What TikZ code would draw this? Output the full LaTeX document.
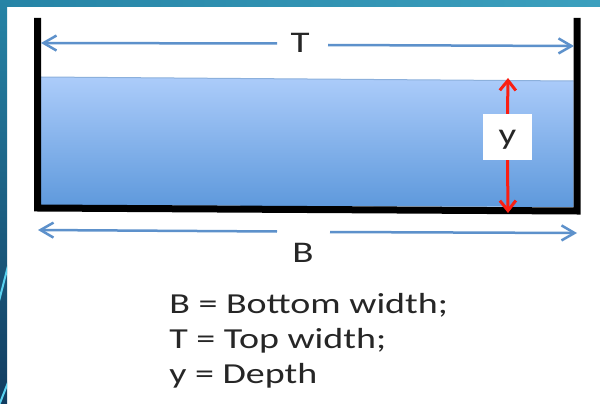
\documentclass[tikz,border=0pt]{standalone}
\usepackage{fontspec}
\setmainfont{Carlito}
\usetikzlibrary{arrows.meta}
\definecolor{arrblue}{RGB}{93,145,203}
\definecolor{waterTop}{RGB}{172,204,250}
\definecolor{waterBot}{RGB}{94,153,220}
\definecolor{surf}{RGB}{140,176,220}
\definecolor{redarr}{RGB}{250,30,18}
\definecolor{txt}{RGB}{38,38,38}
\definecolor{stripTopL}{RGB}{38,132,166}
\definecolor{stripTopR}{RGB}{60,160,190}
\definecolor{stripBot}{RGB}{18,60,96}
\definecolor{cyanline}{RGB}{90,210,240}
\begin{document}
\begin{tikzpicture}[x=1pt,y=-1pt,
  wall/.style={line width=7pt, line join=miter, black},
  dimarrow/.style={draw=arrblue, line width=2.5pt, -{Straight Barb[length=13pt,width=15pt]}},
  deptharrow/.style={draw=redarr, line width=3pt, -{Straight Barb[length=10pt,width=16pt]}},
  dimlabel/.style={font=\fontsize{30}{30}\selectfont, text=txt, xscale=1.3, inner sep=0pt},
  legend/.style={font=\fontsize{29}{29}\selectfont, text=txt, xscale=1.31, inner sep=0pt, anchor=base west}]
\useasboundingbox (0,0) rectangle (600,404);
\fill[white] (0,0) rectangle (600,404);
% slide background strips
\shade[left color=stripTopL, right color=stripTopR] (0,0) rectangle (600,7);
\shade[top color=stripTopL, bottom color=stripBot] (0,0) rectangle (7,404);
\begin{scope}
  \clip (0,0) rectangle (7,404);
  \draw[cyanline, line width=2pt] (-2,305) -- (9,262);
  \draw[cyanline, line width=2pt] (-2,408) -- (9,380);
\end{scope}
% water
\shade[top color=waterTop, bottom color=waterBot] (41,77) -- (573.5,81) -- (573.5,207) -- (41,205) -- cycle;
\draw[surf, line width=1pt] (41,77) -- (573.5,81);
% tank
\draw[wall] (37.5,18) -- (37.5,208) -- (577,211) -- (577,18);
% top width T
\node[dimlabel] (T) at (300,43) {T};
\coordinate (Tl) at (41,43);
\coordinate (Tr) at (574,46);
\coordinate (Tgl) at (277,43.5);
\coordinate (Tgr) at (328,45);
\draw[dimarrow] (Tgl) -- (Tl);
\draw[dimarrow] (Tgr) -- (Tr);
% bottom width B
\node[dimlabel] (B) at (303,253) {B};
\coordinate (Bl) at (38,230);
\coordinate (Br) at (577,233);
\coordinate (Bgl) at (277,231.5);
\coordinate (Bgr) at (330,232);
\draw[dimarrow] (Bgl) -- (Bl);
\draw[dimarrow] (Bgr) -- (Br);
% depth y
\node[fill=white, minimum width=49pt, minimum height=46pt, inner sep=0pt] (ybox) at (507.5,137) {};
\node[dimlabel] (ylab) at (507.5,140) {y};
\coordinate (yt) at (508,78);
\coordinate (yb) at (508,213);
\draw[deptharrow] (ybox.north) -- (yt);
\draw[deptharrow] (ybox.south) -- (yb);
% legend
\node[legend] (l1) at (169,313) {B = Bottom width;};
\node[legend] (l2) at (169,348) {T = Top width;};
\node[legend] (l3) at (169,383) {y = Depth};
\end{tikzpicture}
\end{document}
